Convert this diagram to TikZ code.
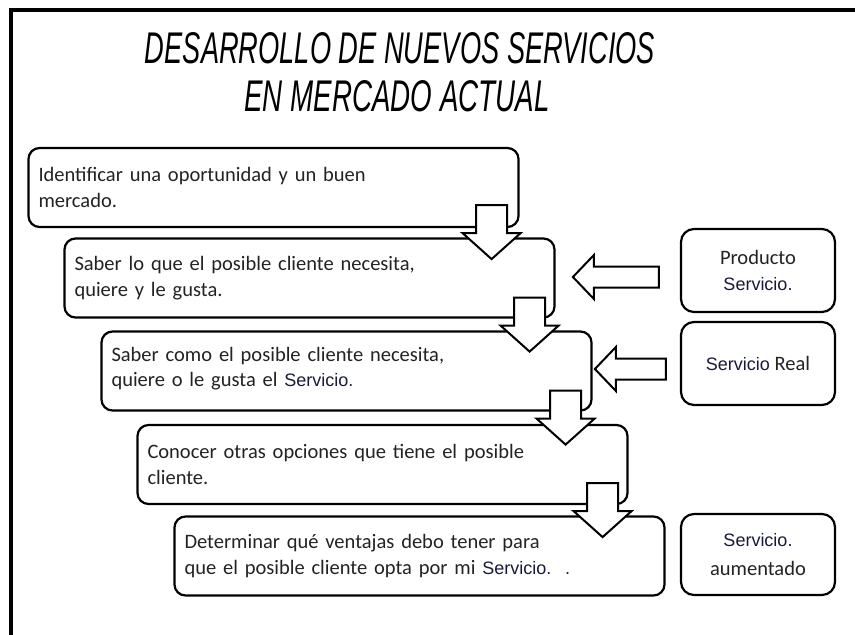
\documentclass[tikz,border=0pt]{standalone}
\usepackage{fontspec}
\setmainfont{Carlito}
\newfontfamily\arialf{Liberation Sans}
\usetikzlibrary{calc}
\definecolor{txt}{RGB}{35,35,35}
\definecolor{svc}{RGB}{25,25,60}
\newcommand{\svcw}[1]{{\arialf\fontsize{18}{25}\selectfont\color{svc}#1}}
\begin{document}
\begin{tikzpicture}[x=1pt,y=-1pt,
  box/.style={draw, line width=2.2pt, rounded corners=11pt, fill=white, inner sep=10pt,
    align=left, text width=470pt, minimum height=79pt, text=txt,
    font=\fontsize{20.5}{25.5}\selectfont},
  sidebox/.style={draw, line width=2.2pt, rounded corners=13pt, fill=white, align=center,
    minimum width=154pt, text=txt, font=\fontsize{20.5}{29}\selectfont},
  arr/.style={draw, line width=2pt, fill=white, line join=miter},
  downarr/.pic={\path[arr] (-15.5,0) -- (15.5,0) -- (15.5,28) -- (29,28) -- (0,54)
      -- (-29,28) -- (-15.5,28) -- cycle;},
  leftarr/.pic={\path[arr] (0,0) -- (21,-22) -- (21,-10.5) -- (#1,-10.5) -- (#1,10.5)
      -- (21,10.5) -- (21,22) -- cycle;}
]
\useasboundingbox (0,0) rectangle (855,635);
\draw[line width=4pt] (11,637) -- (11,10) -- (857,10);

% title
\node (t1) at (400,48) {\resizebox{510pt}{31pt}{\arialf\itshape DESARROLLO DE NUEVOS SERVICIOS}};
\node (t2) at (397,96) {\resizebox{305pt}{31pt}{\arialf\itshape EN MERCADO ACTUAL}};

% main boxes
\node[box] (b1) at (273.5,187.5) {Identificar una oportunidad y un buen\\mercado.};
\node[box] (b2) at (309.5,278) {Saber lo que el posible cliente necesita,\\quiere y le gusta.};
\node[box] (b3) at (346.5,371) {Saber como el posible cliente necesita,\\quiere o le gusta el \svcw{Servicio.}\rule[-8pt]{0pt}{8pt}};
\node[box] (b4) at (382.5,464.5) {Conocer otras opciones que tiene el posible\\cliente.};
\node[box] (b5) at (419.5,556) {Determinar qué ventajas debo tener para\\que el posible cliente opta por mi \svcw{Servicio.\ \ .}};

% side boxes
\node[sidebox, minimum height=83pt] (s1) at (758,270.5) {Producto\\[-3pt]\svcw{Servicio.}};
\node[sidebox, minimum height=83pt] (s2) at (758,363.5) {\svcw{Servicio} Real};
\node[sidebox, minimum height=81pt] (s3) at (758,554.5) {\svcw{Servicio.}\\aumentado};

% down arrows
\pic at ($(b1.south east)+(-28,-23)$) {downarr};
\pic at ($(b2.south east)+(-26,-21)$) {downarr};
\pic at ($(b3.south east)+(-27,-21)$) {downarr};
\pic at ($(b4.south east)+(-26,-22)$) {downarr};

% left arrows
\pic at ($(s1.west)+(-107,6.5)$) {leftarr=86};
\pic at ($(s2.west)+(-85,5.5)$) {leftarr=71};
\end{tikzpicture}
\end{document}
